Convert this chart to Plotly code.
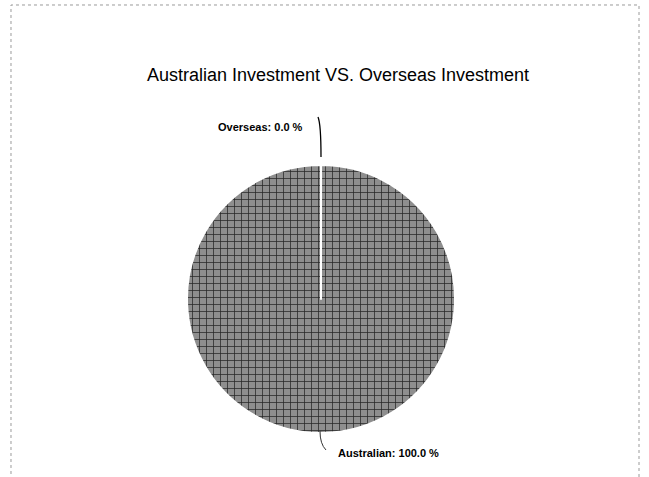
import plotly.graph_objects as go

labels = ["Overseas", "Australian"]
values = [0.01, 100.0]          # Overseas shown as 0.0 %
colors = ["#ffffff", "#8e8e8e"]
title_text = "Australian Investment VS. Overseas Investment"

W, H = 649, 477
cx, cy, r = 321, 299, 134


def px(x):
    return x / W


def py(y):
    return 1 - y / H


fig = go.Figure()
fig.add_trace(go.Pie(
    labels=labels,
    values=values,
    sort=False,
    direction="clockwise",
    rotation=0,
    marker=dict(colors=colors, line=dict(color="#ffffff", width=2),
                pattern=dict(shape="+", fgcolor="#262626", bgcolor=colors, size=7, solidity=0.2)),
    textinfo="none",
    showlegend=False,
    hoverinfo="label+value",
    domain=dict(x=[px(cx - r), px(cx + r)], y=[py(cy + r), py(cy - r)]),
))

lab_font = dict(family="Liberation Sans, Arial", size=11, color="#000000")
annotations = [
    dict(text="<b>%s: %.1f %%</b>" % (labels[0], values[0]), xref="paper", yref="paper",
         x=px(305), y=py(127), xanchor="right", yanchor="middle", showarrow=False, font=lab_font),
    dict(text="<b>%s: %.1f %%</b>" % (labels[1], values[1]), xref="paper", yref="paper",
         x=px(336), y=py(453), xanchor="left", yanchor="middle", showarrow=False, font=lab_font),
]

shapes = [
    # dotted frame
    dict(type="path", xref="paper", yref="paper",
         path="M %f,%f L %f,%f L %f,%f L %f,%f" % (px(11), py(480), px(11), py(5), px(639), py(5), px(639), py(480)),
         line=dict(color="#9a9a9a", width=1, dash="dot")),
    # leader lines
    dict(type="path", xref="paper", yref="paper",
         path="M %f,%f Q %f,%f %f,%f" % (px(318), py(117), px(321), py(124), px(321), py(157)),
         line=dict(color="#000000", width=1.3)),
    dict(type="path", xref="paper", yref="paper",
         path="M %f,%f Q %f,%f %f,%f" % (px(320), py(431), px(320), py(444), px(326), py(450)),
         line=dict(color="#333333", width=1)),
]

fig.update_layout(
    width=W, height=H,
    margin=dict(l=0, r=0, t=0, b=0),
    paper_bgcolor="#ffffff",
    plot_bgcolor="#ffffff",
    title=dict(text=title_text, x=px(338), xanchor="center", y=py(75), yanchor="middle",
               font=dict(family="Liberation Sans, Arial", size=18, color="#000000")),
    annotations=annotations,
    shapes=shapes,
)

fig.write_html("out.html", config={"displayModeBar": False},
               post_script="document.body.style.margin='0px';")
